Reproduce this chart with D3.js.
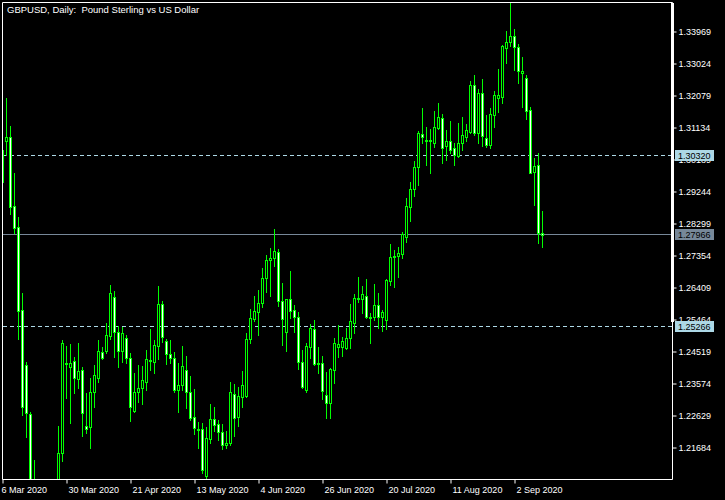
<!DOCTYPE html>
<html>
<head>
<meta charset="utf-8">
<script src="https://cdn.jsdelivr.net/npm/d3@7"></script>
<style>
  html, body { margin: 0; padding: 0; background: #000; }
  svg { display: block; }
  text { font-family: "Liberation Sans", Arial, sans-serif; }
</style>
</head>
<body>
<svg id="chart" width="725" height="500"></svg>
<script>
// ---- Data (GBPUSD daily) ----
const startDate = "2020-03-06";
const barCount = 136;

const openP = [1.29525,1.30744,1.30845,1.28816,1.28187,1.25744,1.24111,1.22673,1.2030,1.1700,
1.1530,1.1620,1.1510,1.1750,1.1880,1.21530,1.24179,1.24052,1.24238,1.23716,
1.23973,1.22319,1.22280,1.23314,1.23751,1.24495,1.24543,1.24985,1.26119,1.25104,
1.24543,1.24909,1.24318,1.22771,1.23314,1.23432,1.23609,1.24224,1.24200,1.24667,
1.25913,1.24829,1.24445,1.24327,1.23397,1.23521,1.23973,1.23314,1.22576,1.22230,
1.22221,1.20851,1.21926,1.22517,1.22378,1.22151,1.21758,1.21808,1.23264,1.22593,
1.23166,1.23214,1.24879,1.25488,1.25694,1.25942,1.26698,1.27221,1.27289,1.27448,
1.26010,1.25104,1.26061,1.25744,1.25529,1.24218,1.23382,1.24661,1.25175,1.24170,
1.24170,1.23234,1.22989,1.23973,1.24661,1.24661,1.24614,1.24909,1.25369,1.26061,
1.26061,1.26167,1.25547,1.25529,1.25892,1.25529,1.25449,1.26610,1.27301,1.27339,
1.27398,1.27909,1.28795,1.29309,1.29959,1.30933,1.30779,1.30744,1.30685,1.31128,
1.31406,1.30596,1.30735,1.30520,1.30301,1.30667,1.30845,1.31010,1.32389,1.30980,
1.32144,1.30815,1.30617,1.31503,1.31996,1.32026,1.33473,1.33668,1.33836,1.33502,
1.32758,1.32587,1.31651,1.29829,1.30026,1.28033];

const highP = [1.30529,1.32005,1.31178,1.29781,1.28500,1.26238,1.24218,1.22741,1.21315,1.1750,
1.1720,1.1650,1.1800,1.1930,1.22319,1.24859,1.24696,1.24755,1.24371,1.24770,
1.24070,1.23302,1.23736,1.24120,1.24859,1.24652,1.25375,1.26483,1.26306,1.25287,
1.25242,1.25006,1.24466,1.23875,1.24135,1.24091,1.24578,1.25169,1.24859,1.26453,
1.26010,1.24879,1.24859,1.24513,1.24194,1.24681,1.24386,1.23795,1.23411,1.22437,
1.22399,1.22289,1.22969,1.22880,1.22496,1.22378,1.22171,1.23633,1.23559,1.23479,
1.23943,1.25056,1.25765,1.26158,1.26335,1.26985,1.27369,1.27566,1.28136,1.27537,
1.26533,1.26069,1.26896,1.25892,1.25677,1.24563,1.24761,1.25331,1.25449,1.24643,
1.24386,1.23905,1.24032,1.24909,1.25302,1.24938,1.25204,1.25922,1.26217,1.26710,
1.26453,1.26660,1.25656,1.26512,1.26255,1.25744,1.26660,1.27694,1.27516,1.27596,
1.28057,1.29043,1.29516,1.30145,1.31030,1.31701,1.31140,1.31090,1.31621,1.31848,
1.31533,1.31060,1.31326,1.30667,1.31276,1.31444,1.31237,1.32507,1.32684,1.32262,
1.32566,1.31503,1.31701,1.32212,1.32862,1.33570,1.33984,1.34819,1.34043,1.33600,
1.33207,1.32684,1.31739,1.30233,1.30372,1.28668];

const lowP = [1.29466,1.30322,1.28580,1.28027,1.24897,1.22644,1.22003,1.1990,1.1640,1.1450,
1.1410,1.1450,1.1480,1.1690,1.1820,1.21294,1.23160,1.22416,1.23308,1.23456,
1.22024,1.22103,1.21660,1.22871,1.23618,1.24297,1.24466,1.24888,1.24365,1.24070,
1.24209,1.24170,1.22475,1.22741,1.23028,1.22969,1.23382,1.23973,1.23893,1.24297,
1.24814,1.24150,1.24179,1.23332,1.22732,1.23397,1.22850,1.22496,1.22083,1.21669,
1.20940,1.20760,1.21808,1.22186,1.21906,1.21640,1.21669,1.21758,1.22032,1.22328,
1.22889,1.23184,1.24779,1.25428,1.25006,1.25824,1.26285,1.26158,1.27044,1.25863,
1.24711,1.24534,1.25499,1.25104,1.24002,1.23432,1.23332,1.24318,1.24120,1.23893,
1.23107,1.22555,1.22546,1.23598,1.24348,1.24386,1.24593,1.24614,1.25074,1.25990,
1.25665,1.25499,1.24779,1.25449,1.25204,1.25124,1.25175,1.26483,1.26433,1.26728,
1.27280,1.27762,1.28382,1.29111,1.29436,1.30685,1.30026,1.29799,1.30549,1.31081,
1.30094,1.30174,1.30390,1.30041,1.30254,1.30469,1.30735,1.30963,1.30912,1.30667,
1.30588,1.30549,1.30537,1.31158,1.31601,1.31866,1.33030,1.33549,1.32832,1.32439,
1.31748,1.31385,1.29790,1.28845,1.27732,1.27614];

const closeP = [1.30470,1.30845,1.28795,1.28175,1.25724,1.22889,1.22694,1.2030,1.1700,1.1530,
1.1640,1.1510,1.1750,1.1880,1.21536,1.24761,1.24150,1.24188,1.23722,1.23943,
1.22694,1.22221,1.23314,1.23816,1.24534,1.24336,1.25006,1.26238,1.25104,1.24543,
1.25056,1.24318,1.22871,1.23314,1.23432,1.23677,1.24289,1.24268,1.24702,1.25913,
1.24938,1.24445,1.24342,1.23397,1.23521,1.24091,1.23314,1.22546,1.22251,1.22201,
1.21034,1.21956,1.22517,1.22348,1.22151,1.21758,1.21808,1.23332,1.22546,1.23205,
1.23530,1.24888,1.25499,1.25715,1.25942,1.26681,1.27221,1.27271,1.27487,1.26019,
1.25479,1.26061,1.25724,1.25547,1.24218,1.23479,1.24681,1.25204,1.24150,1.24156,
1.23361,1.22989,1.23993,1.24761,1.24740,1.24829,1.24909,1.25428,1.26090,1.26108,
1.26208,1.25547,1.25508,1.25892,1.25529,1.25677,1.26630,1.27301,1.27339,1.27419,
1.27980,1.28816,1.29318,1.29959,1.30963,1.30845,1.30750,1.30765,1.31140,1.31435,
1.30537,1.30735,1.30469,1.30322,1.30667,1.30912,1.31060,1.32389,1.30980,1.32144,
1.30883,1.30617,1.31524,1.32094,1.32094,1.33541,1.33668,1.33836,1.33502,1.32811,
1.32817,1.31636,1.29805,1.30012,1.28033,1.27966];

const priceTicks = [1.33969,1.33024,1.32079,1.31134,1.30189,1.29244,1.28299,1.27354,1.26409,1.25464,1.24519,1.23574,1.22629,1.21684];
const dateTickLabels = ["6 Mar 2020","30 Mar 2020","21 Apr 2020","13 May 2020","4 Jun 2020","26 Jun 2020","20 Jul 2020","11 Aug 2020","2 Sep 2020"];
const levelPrices = [1.30320, 1.27966, 1.25266];
const levelKinds  = ["dash", "bid", "dash"];
const titleText = "GBPUSD, Daily:  Pound Sterling vs US Dollar";

// ---- categories: weekdays from start ----
const dates = [];
{
  let d = new Date(startDate + "T00:00:00Z");
  while (dates.length < barCount) {
    const wd = d.getUTCDay();
    if (wd !== 0 && wd !== 6) dates.push(new Date(d));
    d = new Date(d.getTime() + 86400000);
  }
}
const bars = dates.map((dt, i) => ({ i, date: dt, o: openP[i], h: highP[i], l: lowP[i], c: closeP[i] }));

// ---- layout ----
const L = 2.5, R = 672.5, T = 2.5, B = 479.5;
const svg = d3.select("#chart");
svg.append("rect").attr("width", 725).attr("height", 500).attr("fill", "#000");

const x = d3.scaleLinear().domain([0, barCount - 1]).range([2.5, 2.5 + 4 * (barCount - 1)]);
const y = d3.scaleLinear().domain([1.20754, 1.34811]).range([479, 3]);

const GREEN = "#00ff00";
const defs = svg.append("defs");
defs.append("clipPath").attr("id", "plotclip")
  .append("rect").attr("x", 3).attr("y", 3).attr("width", 669).attr("height", 476);

// level lines
const plot = svg.append("g").attr("clip-path", "url(#plotclip)");
levelPrices.forEach((p, k) => {
  const yy = Math.floor(y(p)) + 0.5;
  plot.append("line")
    .attr("x1", 3).attr("x2", 672).attr("y1", yy).attr("y2", yy)
    .attr("stroke", levelKinds[k] === "bid" ? "#778899" : "#add8e6")
    .attr("stroke-width", 1)
    .attr("stroke-dasharray", levelKinds[k] === "bid" ? null : "4,3");
});

// candles
const cg = plot.append("g");
const cand = cg.selectAll("g.c").data(bars).join("g").attr("class", "c");
cand.append("line")
  .attr("x1", d => Math.floor(x(d.i)) + 0.5)
  .attr("x2", d => Math.floor(x(d.i)) + 0.5)
  .attr("y1", d => Math.round(y(d.h)))
  .attr("y2", d => Math.round(y(d.l)) + 1)
  .attr("stroke", GREEN).attr("stroke-width", 1);
cand.each(function(d) {
  const g = d3.select(this);
  const cx = Math.floor(x(d.i));
  const yt = Math.round(y(Math.max(d.o, d.c)));
  const yb = Math.round(y(Math.min(d.o, d.c)));
  const bull = d.c >= d.o;
  if (yb - yt < 1) {
    g.append("line").attr("x1", cx - 1).attr("x2", cx + 2)
      .attr("y1", yt + 0.5).attr("y2", yt + 0.5)
      .attr("stroke", GREEN).attr("stroke-width", 1);
  } else {
    g.append("rect").attr("x", cx - 0.5).attr("y", yt + 0.5)
      .attr("width", 2).attr("height", yb - yt)
      .attr("fill", bull ? "#000" : "#fff")
      .attr("stroke", GREEN).attr("stroke-width", 1);
  }
});

// frame
svg.append("path")
  .attr("d", `M${L},${B}V${T}H${R}V${B}H${L}`)
  .attr("fill", "none").attr("stroke", "#fff").attr("stroke-width", 1);
svg.append("rect").attr("x", 671).attr("y", 3).attr("width", 3).attr("height", 319).attr("fill", "#fff");

// price axis
const yAxis = d3.axisRight(y).tickValues(priceTicks).tickSize(4).tickPadding(2)
  .tickFormat(d3.format(".5f"));
const ya = svg.append("g").attr("transform", `translate(${R},0)`).call(yAxis);
ya.select(".domain").remove();
ya.selectAll(".tick line").attr("stroke", "#fff");
ya.selectAll(".tick text").attr("fill", "#fff").attr("font-size", 9)
  .attr("font-family", "Liberation Sans, Arial, sans-serif");

// level labels
levelPrices.forEach((p, k) => {
  const yy = Math.floor(y(p)) + 0.5;
  svg.append("rect").attr("x", 675).attr("y", yy - 5.5).attr("width", 39).attr("height", 11)
    .attr("fill", levelKinds[k] === "bid" ? "#778899" : "#add8e6");
  svg.append("text").attr("x", 678).attr("y", yy + 3.5)
    .attr("font-size", 9).attr("fill", "#000")
    .text(d3.format(".5f")(p));
});

// time axis
const tickIdx = dateTickLabels.map((_, k) => k * 16);
const xAxis = d3.axisBottom(x).tickValues(tickIdx).tickSize(4).tickPadding(3)
  .tickFormat((d, k) => dateTickLabels[k]);
const xa = svg.append("g").attr("transform", `translate(0,${B})`).call(xAxis);
xa.select(".domain").remove();
xa.selectAll(".tick line").attr("stroke", "#fff");
xa.selectAll(".tick text").attr("fill", "#fff").attr("font-size", 9)
  .attr("text-anchor", "start").attr("dx", (d, k) => k === 0 ? -1.5 : 1.5)
  .attr("font-family", "Liberation Sans, Arial, sans-serif");

// title
svg.append("text").attr("x", 7).attr("y", 13)
  .attr("font-size", 9.5).attr("fill", "#fff")
  .style("white-space", "pre")
  .text(titleText);
</script>
</body>
</html>
